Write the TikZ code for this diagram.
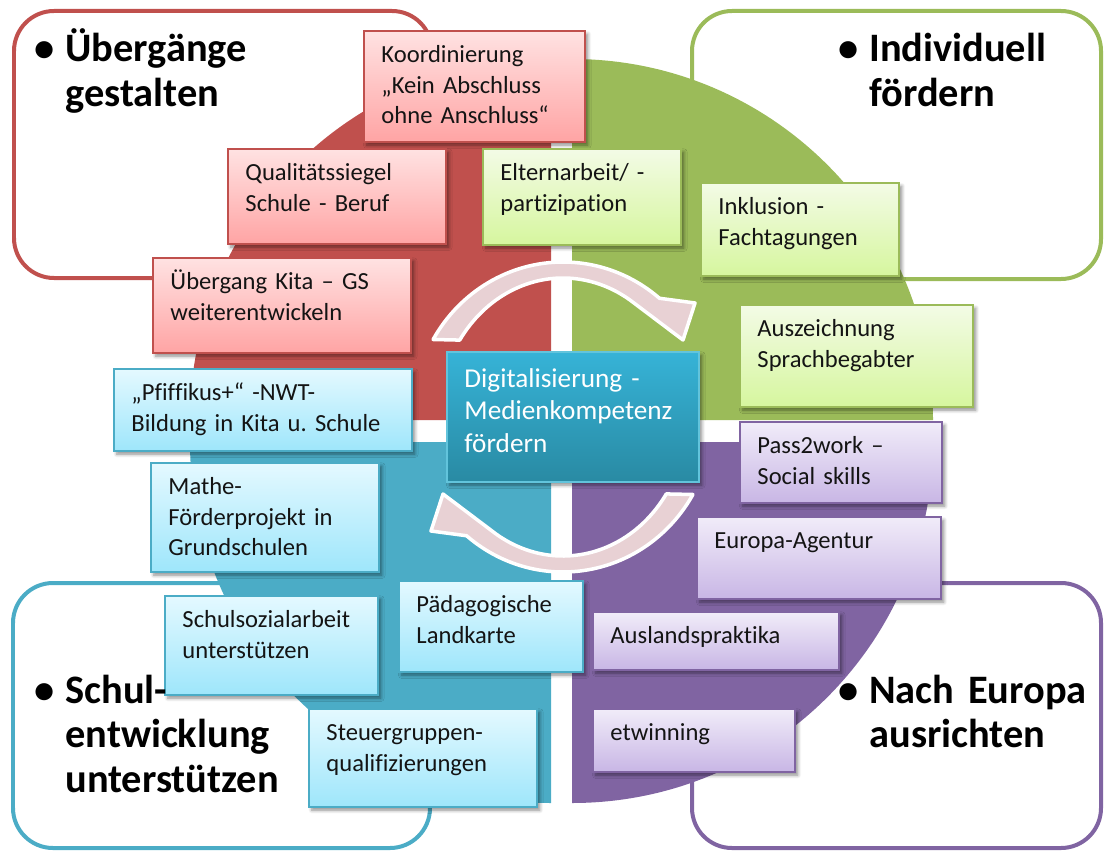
\documentclass[tikz,border=0pt]{standalone}
\usepackage{fontspec}
\setmainfont{Carlito}[Ligatures={TeX,NoCommon}]
\usepackage{tikz}
\usetikzlibrary{calc, fit, shadows.blur}
\frenchspacing

\definecolor{quartRot}{RGB}{192,80,77}
\definecolor{quartGruen}{RGB}{155,187,89}
\definecolor{quartBlau}{RGB}{75,172,198}
\definecolor{quartLila}{RGB}{128,100,162}
\definecolor{pfeilRosa}{RGB}{232,209,212}

\tikzset{
  kachel/.style={draw, line width=1pt, inner sep=0pt,
    blur shadow={shadow xshift=1.6pt, shadow yshift=-1.8pt, shadow blur steps=6, shadow opacity=45}},
  kachelRot/.style={kachel, draw=quartRot, top color={rgb,255:red,255;green,226;blue,226}, bottom color={rgb,255:red,255;green,164;blue,164}},
  kachelGruen/.style={kachel, draw=quartGruen, top color={rgb,255:red,243;green,251;blue,230}, bottom color={rgb,255:red,214;green,246;blue,158}},
  kachelBlau/.style={kachel, draw=quartBlau, top color={rgb,255:red,228;green,249;blue,255}, bottom color={rgb,255:red,158;green,230;blue,251}},
  kachelLila/.style={kachel, draw=quartLila, top color={rgb,255:red,241;green,236;blue,249}, bottom color={rgb,255:red,200;green,182;blue,229}},
  kacheltext/.style={anchor=base west, align=left, inner sep=0pt, text width=6.5cm,
    font=\fontsize{14pt}{17.6pt}\selectfont, text=black!92},
  rahmen/.style={line width=0.08cm, rounded corners=0.8cm},
  titel/.style={anchor=base west, align=left, inner sep=0pt, text width=9cm,
    font=\bfseries\fontsize{23pt}{25.6pt}\selectfont},
  kreispfeil/.style={fill=pfeilRosa, draw=white, line width=2pt, line join=round},
}

% Kachel: Stil, Name, links oben (x,y), rechts unten (x,y), Text
\newcommand{\Kachel}[7]{
  \node[#1, fit={(#3,#4) (#5,#6)}] (#2) {};
  \node[kacheltext] (#2-text) at ([shift={(18,32)}]#2.north west) {#7};
}
% halber Kreispfeil um den Mittelpunkt, #1 = Drehung
\newcommand{\Kreispfeil}[1][0]{
  \draw[kreispfeil, rotate=#1] (150:150 and 155)
    arc[start angle=150, end angle=50, x radius=150, y radius=155]
    -- (132,114) -- (120,77) -- (55:124 and 139)
    arc[start angle=55, end angle=146.4, x radius=124, y radius=139] -- cycle;
}
\newcommand{\Punkt}{\makebox[0.62cm][l]{\textbullet}}
\newcommand{\Einzug}{\hspace*{0.62cm}}

\begin{document}
\begin{tikzpicture}[x=0.02cm, y=-0.02cm, line cap=round]
  \useasboundingbox (0,0) rectangle (1104,851);

  % Rahmen der vier Felder
  \draw[rahmen, quartRot] (14,11) rectangle (432,278);
  \draw[rahmen, quartGruen] (692,11) rectangle (1101,279);
  \draw[rahmen, quartBlau] (13,583) rectangle (430,848);
  \draw[rahmen, quartLila] (692,583) rectangle (1101,848);

  % Kreisviertel
  \coordinate (Mrot) at (551,420);
  \coordinate (Mgruen) at (572,420);
  \coordinate (Mblau) at (551,442);
  \coordinate (Mlila) at (572,442);
  \fill[quartRot] (Mrot) -- ++(-361,0) arc[start angle=180, end angle=270, radius=361] -- cycle;
  \fill[quartGruen] (Mgruen) -- ++(0,-361) arc[start angle=270, end angle=360, radius=361] -- cycle;
  \fill[quartBlau] (Mblau) -- ++(-361,0) arc[start angle=180, end angle=90, radius=361] -- cycle;
  \fill[quartLila] (Mlila) -- ++(361,0) arc[start angle=0, end angle=90, radius=361] -- cycle;

  % Kreislauf
  \begin{scope}[shift={(563,417)}, yscale=-1]
    \Kreispfeil
    \Kreispfeil[180]
  \end{scope}

  % rot
  \Kachel{kachelRot}{koordinierung}{364}{31}{585}{142}{Koordinierung\\„Kein Abschluss\\ohne Anschluss“}
  \Kachel{kachelRot}{siegel}{228}{149}{446}{244}{Qualitätssiegel\\Schule - Beruf}
  \Kachel{kachelRot}{kita}{153}{258}{411}{353}{Übergang Kita – GS\\weiterentwickeln}
  % gruen
  \Kachel{kachelGruen}{eltern}{483}{149}{681}{245}{Elternarbeit/ -\\partizipation}
  \Kachel{kachelGruen}{inklusion}{701}{183}{899}{276}{Inklusion -\\Fachtagungen}
  \Kachel{kachelGruen}{sprache}{740}{305}{973}{407}{Auszeichnung\\Sprachbegabter}
  % blau
  \Kachel{kachelBlau}{pfiffikus}{114}{369}{412}{451}{„Pfiffikus+“ -NWT-\\Bildung in Kita u. Schule}
  \Kachel{kachelBlau}{mathe}{151}{463}{379}{572}{Mathe-\\Förderprojekt in\\Grundschulen}
  \Kachel{kachelBlau}{sozial}{165}{596}{378}{695}{Schulsozialarbeit\\unterstützen}
  \Kachel{kachelBlau}{landkarte}{399}{581}{583}{672}{Pädagogische\\Landkarte}
  \Kachel{kachelBlau}{steuer}{309}{709}{537}{807}{Steuergruppen-\\qualifizierungen}
  % lila
  \Kachel{kachelLila}{pass}{740}{422}{942}{503}{Pass2work –\\Social skills}
  \Kachel{kachelLila}{agentur}{697}{517}{941}{599}{Europa-Agentur}
  \Kachel{kachelLila}{ausland}{593}{612}{839}{670}{Auslandspraktika}
  \Kachel{kachelLila}{etwinning}{593}{709}{795}{772}{etwinning}

  % Mitte
  \node[kachel, draw={rgb,255:red,98;green,196;blue,220}, top color={rgb,255:red,54;green,179;blue,215},
    bottom color={rgb,255:red,41;green,138;blue,163}, fit={(447,352) (699,482)}] (digital) {};
  \node[kacheltext, text=white, font=\fontsize{15.5pt}{18.5pt}\selectfont] (digital-text)
    at ([shift={(18,36)}]digital.north west) {Digitalisierung -\\Medienkompetenz\\fördern};

  % Ueberschriften
  \node[titel] (t-rot) at (34,62) {\Punkt Übergänge\\\Einzug gestalten};
  \node[titel] (t-gruen) at (838,62) {\Punkt Individuell\\\Einzug fördern};
  \node[titel] (t-blau) at (34,703) {\Punkt Schul-\\\Einzug entwicklung\\\Einzug unterstützen};
  \node[titel] (t-lila) at (838,703) {\Punkt Nach Europa\\\Einzug ausrichten};
\end{tikzpicture}
\end{document}
